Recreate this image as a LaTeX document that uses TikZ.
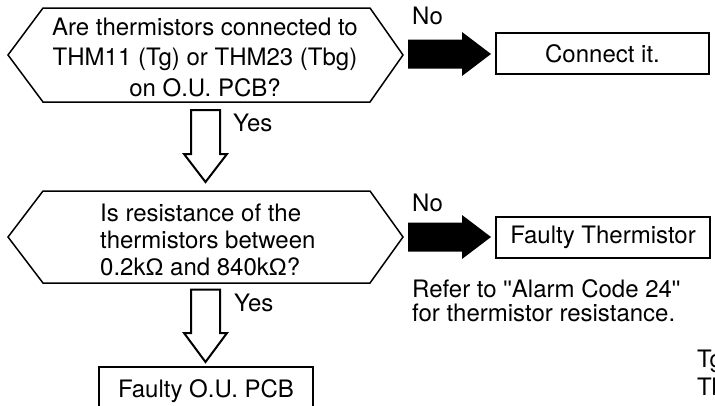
\documentclass[tikz,border=0pt]{standalone}
\usepackage{fontspec}
\setmainfont{TeX Gyre Heros}
\newfontfamily\omegafont{Liberation Sans}
\newcommand{\ohm}{{\omegafont Ω}}
\newcommand{\dq}{{\omegafont"}}
\begin{document}
\begin{tikzpicture}[x=1pt,y=-1pt,
  txt/.style={inner sep=0pt, font=\fontsize{24}{30.3}\selectfont},
  hexline/.style={draw, line width=1.5pt, line join=miter},
  boxnode/.style={draw, line width=2.2pt, inner sep=0pt, font=\fontsize{24}{28}\selectfont},
  hollow/.style={draw, line width=2pt, fill=white, line join=miter},
  solidarrow/.style={fill=black}]
\useasboundingbox (0,0) rectangle (715,405);
\clip (0,0) rectangle (715,405);

% decision 1
\draw[hexline] (8,55) -- (43,8) -- (370,8) -- (403,55) -- (370,102) -- (43,102) -- cycle;
\node[txt, align=center, anchor=base] (q1) at (205,96)
  {Are thermistors connected to\\THM11 (Tg) or THM23 (Tbg)\\on O.U. PCB?};

% No arrow 1
\fill[solidarrow] (408,39.5) -- (462,39.5) -- (462,32) -- (491,54) -- (462,76) -- (462,68.5) -- (408,68.5) -- cycle;
\node[txt, anchor=base west] (no1) at (412,24) {No};
\node[boxnode, minimum width=213, minimum height=41] (c1) at (602.5,53.5) {Connect it.};

% Yes arrow 1
\draw[hollow] (191,110) -- (220,110) -- (220,154) -- (227,154) -- (205.5,182) -- (184,154) -- (191,154) -- cycle;
\node[txt, anchor=base west] (yes1) at (233,131) {Yes};

% decision 2
\draw[hexline] (8,237) -- (43,191) -- (370,191) -- (403,237) -- (370,283) -- (43,283) -- cycle;
\node[txt, align=left, anchor=base west, font=\fontsize{24}{27}\selectfont] (q2) at (100,275)
  {Is resistance of the\\thermistors between\\0.2k\ohm{} and 840k\ohm?};

% No arrow 2
\fill[solidarrow] (408,222.5) -- (462,222.5) -- (462,215) -- (491,237) -- (462,259) -- (462,251.5) -- (408,251.5) -- cycle;
\node[txt, anchor=base west] (no2) at (412,211) {No};
\node[boxnode, minimum width=214, minimum height=41] (c2) at (603,237.5) {Faulty Thermistor};
\node[txt, align=left, anchor=base west, font=\fontsize{24}{24.5}\selectfont] (note) at (412,321.5)
  {Refer to \dq Alarm Code 24\dq\\for thermistor resistance.};

% Yes arrow 2
\draw[hollow] (191,289.5) -- (220,289.5) -- (220,333) -- (227,333) -- (205.5,362) -- (184,333) -- (191,333) -- cycle;
\node[txt, anchor=base west] (yes2) at (234,311.5) {Yes};

% Faulty O.U. PCB (cropped)
\draw[line width=2.2pt] (99,430) -- (99,367) -- (313,367) -- (313,430);
\node[txt, anchor=base] (c3) at (206,397) {Faulty O.U. PCB};

% cropped legend
\node[txt, anchor=base west] (tg) at (697,367) {Tg};
\node[txt, anchor=base west] (tb) at (697,395) {Tb};
\end{tikzpicture}
\end{document}
